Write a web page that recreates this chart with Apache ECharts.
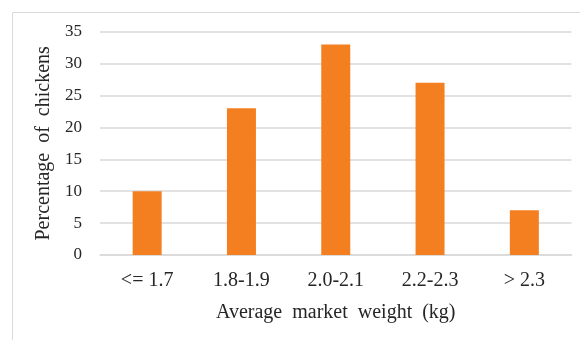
<!DOCTYPE html>
<html>
<head>
<meta charset="utf-8">
<style>
  html, body { margin: 0; padding: 0; background: #fff; }
  #chart { width: 580px; height: 340px; }
</style>
<script src="https://cdn.jsdelivr.net/npm/echarts@6/dist/echarts.min.js"></script>
</head>
<body>
<div id="chart"></div>
<script>
// Distribution of market weight across the flock
const weightClasses = ['<= 1.7', '1.8-1.9', '2.0-2.1', '2.2-2.3', '> 2.3'];
const percentChickens = [10, 23, 33, 27, 7];
const yTicks = { min: 0, max: 35, interval: 5 };

const serif = '"Liberation Serif", "Times New Roman", serif';
const chart = echarts.init(document.getElementById('chart'), null, { renderer: 'canvas' });

chart.setOption({
  animation: false,
  backgroundColor: '#ffffff',
  graphic: [{
    type: 'rect',
    shape: { x: 12.5, y: 12.5, width: 620, height: 400 },
    style: { fill: 'none', stroke: '#d9d9d9', lineWidth: 1 },
    silent: true
  }],
  grid: { left: 100, right: 8.5, top: 31.7, bottom: 85, containLabel: false },
  xAxis: {
    type: 'category',
    data: weightClasses,
    name: 'Average  market  weight  (kg)',
    nameLocation: 'middle',
    nameGap: 48,
    nameTextStyle: { fontFamily: serif, fontSize: 20, color: '#262626' },
    axisLine: { show: true, lineStyle: { color: '#d9d9d9', width: 1.5 } },
    axisTick: { show: false },
    axisLabel: { fontFamily: serif, fontSize: 20, color: '#262626', margin: 16 }
  },
  yAxis: {
    type: 'value',
    min: yTicks.min,
    max: yTicks.max,
    interval: yTicks.interval,
    name: 'Percentage  of  chickens',
    nameLocation: 'middle',
    nameGap: 43,
    nameTextStyle: { fontFamily: serif, fontSize: 20, color: '#262626' },
    axisLine: { show: false },
    axisTick: { show: false },
    axisLabel: { fontFamily: serif, fontSize: 17, color: '#262626', margin: 18 },
    splitLine: { lineStyle: { color: '#d9d9d9', width: 1.5 } }
  },
  series: [{
    type: 'bar',
    data: percentChickens,
    barWidth: 29,
    itemStyle: { color: '#f47f20' }
  }]
});
</script>
</body>
</html>
